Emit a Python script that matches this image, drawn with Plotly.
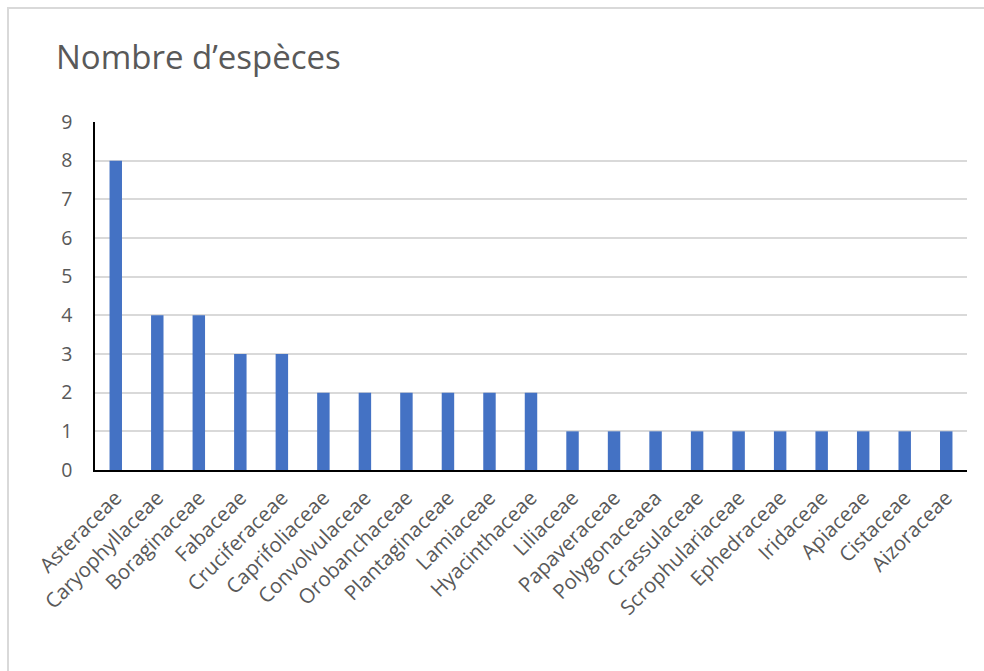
import plotly.graph_objects as go

# Plant families and their species counts
families = [
    "Asteraceae", "Caryophyllaceae", "Boraginaceae", "Fabaceae", "Cruciferaceae",
    "Caprifoliaceae", "Convolvulaceae", "Orobanchaceae", "Plantaginaceae", "Lamiaceae",
    "Hyacinthaceae", "Liliaceae", "Papaveraceae", "Polygonaceaea", "Crassulaceae",
    "Scrophulariaceae", "Ephedraceae", "Iridaceae", "Apiaceae", "Cistaceae", "Aizoraceae",
]
species_counts = [8, 4, 4, 3, 3, 2, 2, 2, 2, 2, 2, 1, 1, 1, 1, 1, 1, 1, 1, 1, 1]
y_ticks = list(range(0, 10))

W, H = 984, 671
L, R, T, B = 95, 17, 122, 201
pw, ph = W - L - R, H - T - B

text_color = "#595959"
font_family = "Open Sans, Segoe UI, sans-serif"

fig = go.Figure(
    go.Bar(
        x=families,
        y=species_counts,
        marker=dict(color="#4472C4", line=dict(width=0)),
        hoverinfo="x+y",
    )
)

# Outer frame around the chart area
def px_x(v):
    return (v - L) / pw

def px_y(v):
    return 1 - (v - T) / ph

fig.add_shape(
    type="rect", xref="paper", yref="paper",
    x0=px_x(8), x1=px_x(995), y0=px_y(690), y1=px_y(8),
    line=dict(color="#d9d9d9", width=2), fillcolor="rgba(0,0,0,0)", layer="below",
)

fig.update_layout(
    width=W, height=H,
    margin=dict(l=L, r=R, t=T, b=B),
    paper_bgcolor="white",
    plot_bgcolor="white",
    bargap=0.7,
    showlegend=False,
    font=dict(family=font_family, color=text_color, size=19),
    title=dict(
        text="Nombre d\u2019esp\u00e8ces",
        x=56 / W, xanchor="left", xref="container",
        y=1 - 57 / H, yanchor="middle", yref="container",
        font=dict(size=33, color=text_color, family=font_family),
    ),
    xaxis=dict(
        tickangle=-45,
        showgrid=False,
        showline=True, linecolor="black", linewidth=1.5,
        ticks="",
        tickfont=dict(size=20.5, color=text_color),
        ticklabelstandoff=6,
    ),
    yaxis=dict(
        range=[0, 9],
        tickvals=y_ticks,
        showgrid=True, gridcolor="#d9d9d9", gridwidth=1.5,
        showline=True, linecolor="black", linewidth=1.5,
        zeroline=False,
        ticks="",
        tickfont=dict(size=19.5, color=text_color),
        ticklabelstandoff=17,
    ),
)

fig.write_html("out.html")
